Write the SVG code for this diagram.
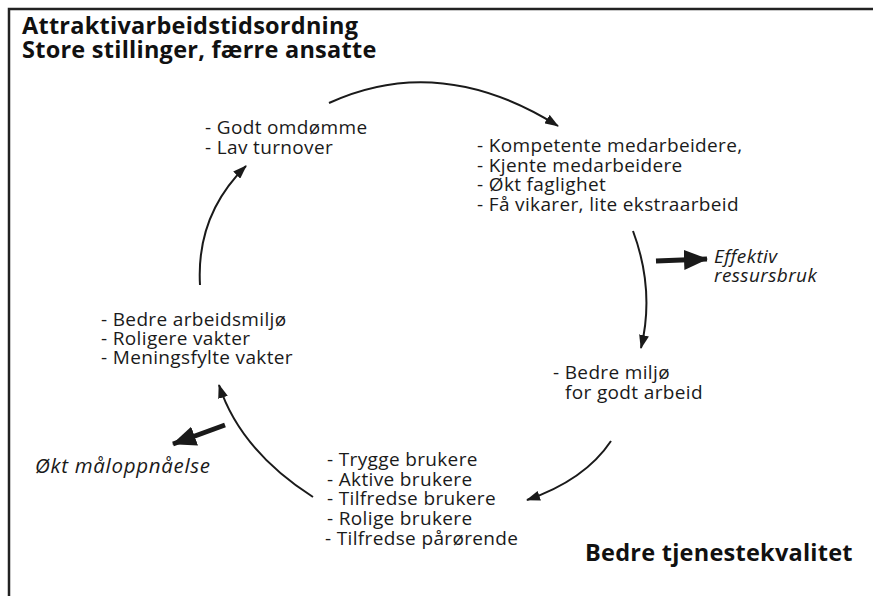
<svg xmlns="http://www.w3.org/2000/svg" width="873" height="596" viewBox="0 0 873 596">
<defs>
<style>
.t{font-family:"Open Sans","Noto Sans","Liberation Sans",sans-serif;font-size:19px;letter-spacing:0.35px;fill:#1a1a1a}
.i{font-style:italic;letter-spacing:0.4px}
.big{font-size:20.5px;letter-spacing:0.7px}
.b{font-weight:bold;font-size:23.5px;letter-spacing:0.25px;fill:#111}
.c{fill:none;stroke:#1a1a1a;stroke-width:2}
.k{fill:none;stroke:#1a1a1a;stroke-width:5}
</style>
<marker id="ah" viewBox="0 0 14 10" refX="13" refY="5" markerWidth="14" markerHeight="10" markerUnits="userSpaceOnUse" orient="auto">
<path d="M0 0 L14 5 L0 10 Z" fill="#1a1a1a"/>
</marker>
<marker id="bh" viewBox="0 0 24 20" refX="23" refY="10" markerWidth="24" markerHeight="20" markerUnits="userSpaceOnUse" orient="auto">
<path d="M0 0 L24 10 L0 20 Z" fill="#1a1a1a"/>
</marker>
</defs>
<rect width="873" height="596" fill="#fff"/>
<path d="M9 596 V9 H873" fill="none" stroke="#222" stroke-width="2.5"/>
<g id="title">
<text class="t b" x="22" y="34">Attraktivarbeidstidsordning</text>
<text class="t b" x="22" y="58">Store stillinger, færre ansatte</text>
</g>
<g id="n-omdomme">
<text class="t" x="205" y="134">- Godt omdømme</text>
<text class="t" x="205" y="154">- Lav turnover</text>
</g>
<g id="n-kompetente">
<text class="t" x="477" y="152">- Kompetente medarbeidere,</text>
<text class="t" x="477" y="172">- Kjente medarbeidere</text>
<text class="t" x="477" y="191">- Økt faglighet</text>
<text class="t" x="477" y="211">- Få vikarer, lite ekstraarbeid</text>
</g>
<g id="n-effektiv">
<text class="t i" x="714" y="263">Effektiv</text>
<text class="t i" x="714" y="282">ressursbruk</text>
</g>
<g id="n-miljo">
<text class="t" x="553" y="379">- Bedre miljø</text>
<text class="t" x="565" y="399">for godt arbeid</text>
</g>
<g id="n-brukere">
<text class="t" x="327" y="466">- Trygge brukere</text>
<text class="t" x="327" y="486">- Aktive brukere</text>
<text class="t" x="327" y="505">- Tilfredse brukere</text>
<text class="t" x="327" y="525">- Rolige brukere</text>
<text class="t" x="325" y="545">- Tilfredse pårørende</text>
</g>
<g id="n-arbeidsmiljo">
<text class="t" x="101" y="326">- Bedre arbeidsmiljø</text>
<text class="t" x="101" y="345">- Roligere vakter</text>
<text class="t" x="101" y="364">- Meningsfylte vakter</text>
</g>
<g id="n-maloppnaelse">
<text class="t i big" x="35" y="473">Økt måloppnåelse</text>
</g>
<g id="n-kvalitet">
<text class="t b" x="585" y="561">Bedre tjenestekvalitet</text>
</g>
<g id="connectors">
<path class="c" d="M329 103 Q440 52 558 126" marker-end="url(#ah)"/>
<path class="c" d="M633 231 Q655 290 641 348" marker-end="url(#ah)"/>
<path class="c" d="M611 441 Q585 480 527 500" marker-end="url(#ah)"/>
<path class="c" d="M313 497 Q240 450 219 385" marker-end="url(#ah)"/>
<path class="c" d="M200 285 Q196 215 246 166" marker-end="url(#ah)"/>
<path class="k" d="M656 261 L707 259" marker-end="url(#bh)"/>
<path class="k" d="M225 425 L173 444" marker-end="url(#bh)"/>
</g>
</svg>
